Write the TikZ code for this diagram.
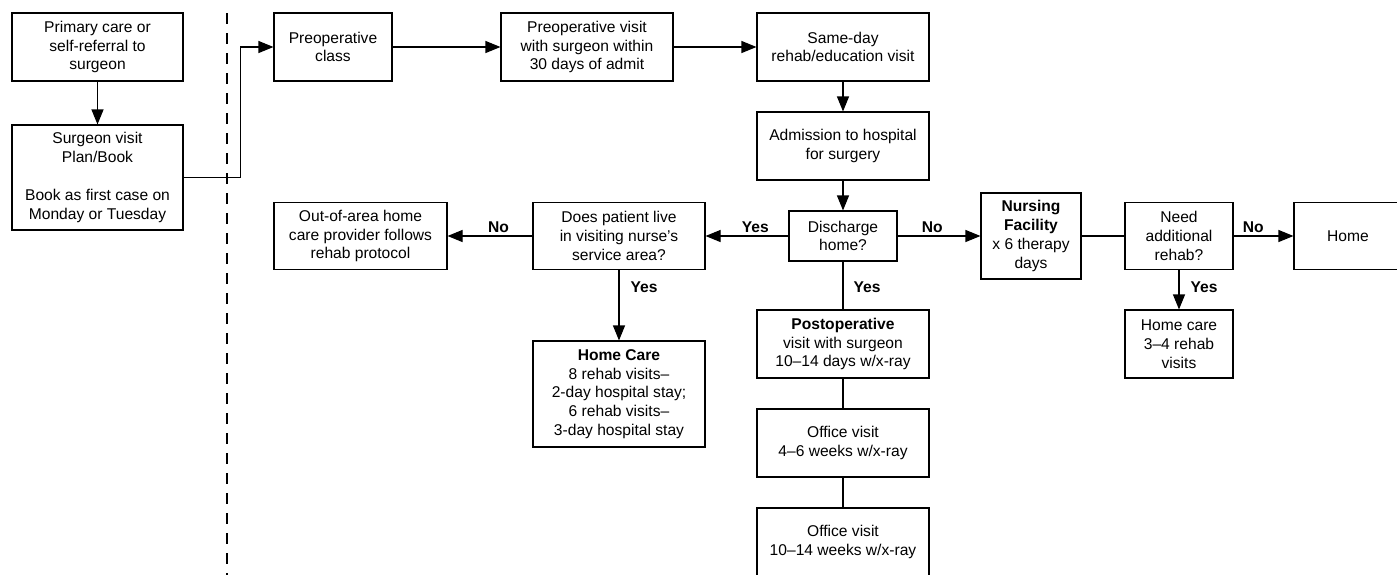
\documentclass[tikz,border=0pt]{standalone}
\usepackage{fontspec}
\setmainfont{Liberation Sans}
\usetikzlibrary{positioning}
\usetikzlibrary{arrows.meta}
\tikzset{
	-{Triangle[length=15pt,width=12pt]},
	every path/.style={line width=1.1pt},
	every node/.style={font=\fontsize{15.6}{18.8}\selectfont, align=center, inner sep=0pt},
	state/.style ={rectangle, draw, minimum width=172pt, minimum height=68pt},
	el/.style = {font=\fontsize{15.6}{18.8}\selectfont\bfseries, inner sep=3pt},
	nohead/.style = {-},
	divider/.style = {-, line width=2.8pt, dash pattern=on 11pt off 9pt}
}

\begin{document}
\begin{tikzpicture}[x=1pt, y=-1pt]
	\useasboundingbox (0,0) rectangle (1397,574);
	% referral side
	\node[state, minimum width=171pt] (1) at (97.5, 47) {Primary care or\\self-referral to\\surgeon};
	\node[state, minimum width=171pt, minimum height=105pt] (2) at (97.5, 177.5) {Surgeon visit\\Plan/Book\\[18.8pt]Book as first case on\\Monday or Tuesday};
	\draw[divider] (227,13) -- (227,580);
	
	% preoperative path
	\node[state, minimum width=118pt] (3) at (333, 47) {Preoperative\\class};
	\node[state] (4) at (587, 47) {Preoperative visit\\with surgeon within\\30 days of admit};
	\node[state] (5) at (843, 47) {Same-day\\rehab/education visit};
	\node[state] (6) at (843, 146) {Admission to hospital\\for surgery};
	\node[state, minimum width=108pt, minimum height=50pt] (7) at (843, 236) {Discharge\\home?};
	
	% discharge branches
	\node[state, minimum height=67pt] (8) at (619, 236) {Does patient live\\in visiting nurse’s\\service area?};
	\node[state, minimum width=173pt, minimum height=67pt] (9) at (360.5, 236) {Out-of-area home\\care provider follows\\rehab protocol};
	\node[state, minimum height=106pt] (10) at (619, 394) {\textbf{Home Care}\\8 rehab visits–\\2-day hospital stay;\\6 rehab visits–\\3-day hospital stay};
	\node[state] (11) at (843, 344) {\textbf{Postoperative}\\visit with surgeon\\10–14 days w/x-ray};
	\node[state] (12) at (843, 443) {Office visit\\4–6 weeks w/x-ray};
	\node[state] (13) at (843, 542) {Office visit\\10–14 weeks w/x-ray};
	\node[state, minimum width=100pt, minimum height=86pt] (14) at (1031, 236) {\textbf{Nursing}\\\textbf{Facility}\\x 6 therapy\\days};
	\node[state, minimum width=108pt, minimum height=67pt] (15) at (1179, 236) {Need\\additional\\rehab?};
	\node[state, minimum width=108pt, minimum height=67pt] (16) at (1348, 236) {Home};
	\node[state, minimum width=108pt] (17) at (1179, 344) {Home care\\3–4 rehab\\visits};
	
	\path (1) edge (2);
	\draw (2.east) -- ++(57,0) |- (3.west);
	\path (3) edge (4);
	\path (4) edge (5);
	\path (5) edge (6);
	\path (6) edge (7);
	\path (7) edge node[above, el, pos=0.40] {Yes} (8);
	\path (8) edge node[above, el, pos=0.40] {No} (9);
	\path (8) edge node[right, el, pos=0.25, xshift=8pt] {Yes} (10);
	\path (7) edge[nohead] node[right, el, pos=0.53, xshift=7pt] {Yes} (11);
	\path (11) edge[nohead] (12);
	\path (12) edge[nohead] (13);
	\path (7) edge node[above, el, pos=0.42] {No} (14);
	\path (14) edge[nohead] (15);
	\path (15) edge node[above, el, pos=0.33] {No} (16);
	\path (15) edge node[right, el, pos=0.44, xshift=8pt] {Yes} (17);
	
\end{tikzpicture}
\end{document}
